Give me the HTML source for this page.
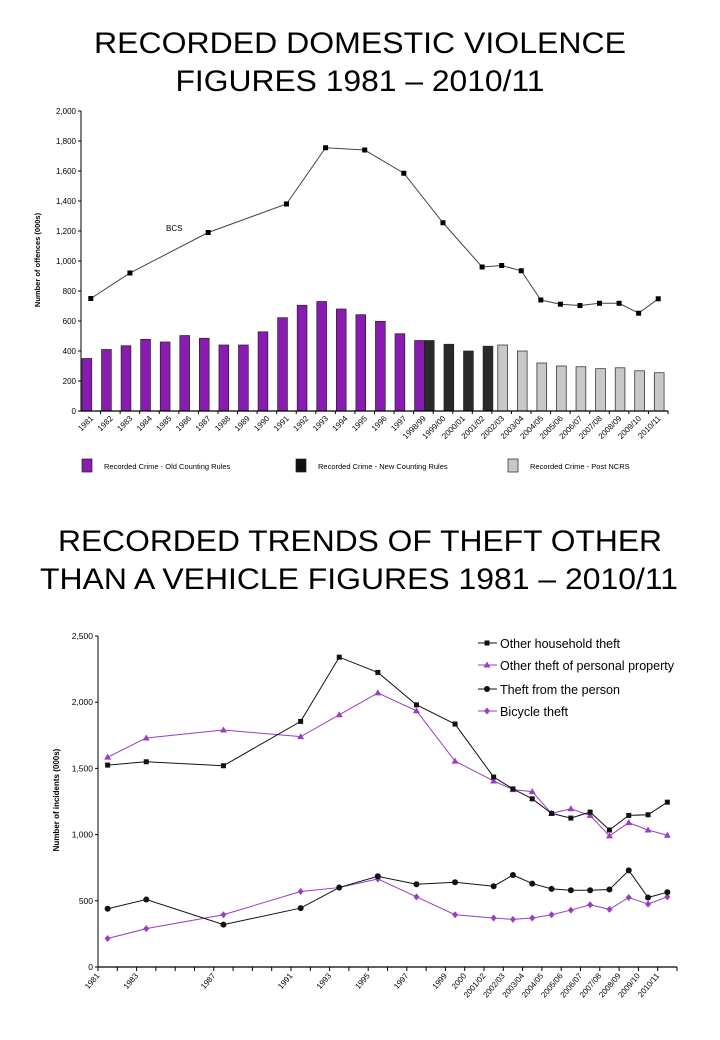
<!DOCTYPE html>
<html><head><meta charset="utf-8">
<style>
html,body{margin:0;padding:0;background:#fff;}
svg{display:block;font-family:"Liberation Sans",Arial,sans-serif;}
</style></head>
<body>
<svg id="root" width="720" height="1040" viewBox="0 0 720 1040" xmlns="http://www.w3.org/2000/svg">
<text x="360" y="53" font-size="30" text-anchor="middle" textLength="532" lengthAdjust="spacingAndGlyphs">RECORDED DOMESTIC VIOLENCE</text>
<text x="360" y="91" font-size="30" text-anchor="middle" textLength="369" lengthAdjust="spacingAndGlyphs">FIGURES 1981 – 2010/11</text>
<text x="360" y="551" font-size="30" text-anchor="middle" textLength="604" lengthAdjust="spacingAndGlyphs">RECORDED TRENDS OF THEFT OTHER</text>
<text x="359" y="589" font-size="30" text-anchor="middle" textLength="638" lengthAdjust="spacingAndGlyphs">THAN A VEHICLE FIGURES 1981 – 2010/11</text>
<g id="c1"></g>
<g id="c2"></g>
</svg>
<script>
// ---- Chart 1 data ----
const c1Categories = ["1981","1982","1983","1984","1985","1986","1987","1988","1989","1990","1991","1992","1993","1994","1995","1996","1997","1998/99","1999/00","2000/01","2001/02","2002/03","2003/04","2004/05","2005/06","2006/07","2007/08","2008/09","2009/10","2010/11"];
const c1OldCats = ["1981","1982","1983","1984","1985","1986","1987","1988","1989","1990","1991","1992","1993","1994","1995","1996","1997","1998/99"];
const c1OldValues = [350,410,435,478,460,503,485,440,440,528,622,705,730,680,642,598,515,470];
const c1NewCats = ["1998/99","1999/00","2000/01","2001/02"];
const c1NewValues = [470,445,400,432];
const c1NcrsCats = ["2002/03","2003/04","2004/05","2005/06","2006/07","2007/08","2008/09","2009/10","2010/11"];
const c1NcrsValues = [440,400,320,300,295,282,288,268,255];
const c1BcsCats = ["1981","1983","1987","1991","1993","1995","1997","1999/00","2001/02","2002/03","2003/04","2004/05","2005/06","2006/07","2007/08","2008/09","2009/10","2010/11"];
const c1BcsValues = [750,920,1190,1380,1755,1740,1585,1255,960,970,935,740,712,703,718,718,652,748];
const c1Ticks = [0,200,400,600,800,1000,1200,1400,1600,1800,2000];
const c1TickLabels = ["0","200","400","600","800","1,000","1,200","1,400","1,600","1,800","2,000"];

// ---- Chart 2 data ----
const c2Slots = ["1981","","1983","","","","1987","","","","1991","","1993","","1995","","1997","","1999","2000","2001/02","2002/03","2003/04","2004/05","2005/06","2006/07","2007/08","2008/09","2009/10","2010/11"];
const c2PointCats = ["1981","1983","1987","1991","1993","1995","1997","1999","2001/02","2002/03","2003/04","2004/05","2005/06","2006/07","2007/08","2008/09","2009/10","2010/11"];
const c2Household = [1525,1550,1520,1855,2340,2225,1980,1835,1435,1345,1270,1160,1125,1170,1035,1145,1150,1245];
const c2Personal = [1585,1730,1790,1740,1905,2070,1935,1555,1405,1340,1325,1160,1195,1145,990,1090,1035,995];
const c2Person = [440,510,320,445,600,685,625,640,610,695,630,590,580,580,585,730,525,565];
const c2Bicycle = [215,290,395,570,600,665,530,395,370,360,370,395,430,470,435,525,475,530];
const c2Ticks = [0,500,1000,1500,2000,2500];
const c2TickLabels = ["0","500","1,000","1,500","2,000","2,500"];

const NS = "http://www.w3.org/2000/svg";
function mk(parent, tag, attrs, text){
  const e = document.createElementNS(NS, tag);
  for (const k in attrs) e.setAttribute(k, attrs[k]);
  if (text !== undefined) e.textContent = text;
  parent.appendChild(e);
  return e;
}
const PURPLE_BAR = "#8a1bb0", PURPLE = "#9a3cc4";

// ===== Chart 1 =====
(function(){
  const g = document.getElementById('c1');
  const X0 = 81, X1 = 668, Y0 = 411, Y1 = 111;
  const slot = (X1 - X0) / c1Categories.length;
  const xs = i => X0 + i * slot;
  const ys = v => Y0 - (v / 2000) * (Y0 - Y1);
  const idx = c => c1Categories.indexOf(c);
  let e = mk(g,'line',{x1:X0,y1:Y1,x2:X0,y2:Y0,stroke:'#000','stroke-width':1});
  
  
  c1Ticks.forEach((t,i)=>{
    let tk = mk(g,'line',{x1:X0-3,y1:ys(t),x2:X0,y2:ys(t),stroke:'#000'});
    
    
    let tl = mk(g,'text',{x:X0-5,y:ys(t)+3,'font-size':8,'text-anchor':'end'},c1TickLabels[i]);
    
    
  });
  let yt = mk(g,'text',{x:0,y:0,'font-size':7.5,'font-weight':'bold','text-anchor':'middle',transform:'translate(40,260) rotate(-90)'},'Number of offences (000s)');
  
  
  function bars(cats, vals, off, fill, name){
    cats.forEach((c,i)=>{
      const x = xs(idx(c) + off);
      const r = mk(g,'rect',{x:x,y:ys(vals[i]),width:slot*0.5,height:Y0-ys(vals[i]),fill:fill,stroke:'#222','stroke-width':0.7});
      
      
    });
  }
  bars(c1OldCats, c1OldValues, 0.05, PURPLE_BAR, 'bar-old-counting-rules');
  bars(c1NewCats, c1NewValues, 0.55, '#2a2a2a', 'bar-new-counting-rules');
  bars(c1NcrsCats, c1NcrsValues, 0.3, '#c8c8c8', 'bar-post-ncrs');
  e = mk(g,'line',{x1:X0,y1:Y0,x2:X1,y2:Y0,stroke:'#000','stroke-width':1.2});
  
  
  c1Categories.forEach((c,i)=>{
    let tk = mk(g,'line',{x1:xs(i+1),y1:Y0,x2:xs(i+1),y2:Y0+3,stroke:'#000'});
    
    
    const lx = xs(i+0.5)+3, ly = Y0+8;
    let tl = mk(g,'text',{x:lx,y:ly,'font-size':8,'text-anchor':'end',transform:`rotate(-45 ${lx} ${ly})`},c);
    
    
  });
  const pts = c1BcsCats.map((c,i)=>[xs(idx(c)+0.5), ys(c1BcsValues[i])]);
  let pl = mk(g,'polyline',{points:pts.map(p=>p.join(',')).join(' '),fill:'none',stroke:'#444','stroke-width':1});
  
  
  pts.forEach(p=>{
    let m = mk(g,'rect',{x:p[0]-2.5,y:p[1]-2.5,width:5,height:5,fill:'#000'});
    
    
  });
  let bl = mk(g,'text',{x:166,y:231,'font-size':8},'BCS');
  
  
  const leg = [[82,PURPLE_BAR,'Recorded Crime - Old Counting Rules','legend-old-counting-rules'],[296,'#111','Recorded Crime - New Counting Rules','legend-new-counting-rules'],[508,'#c8c8c8','Recorded Crime - Post NCRS','legend-post-ncrs']];
  leg.forEach(l=>{
    const lg = mk(g,'g',{});
    
    
    mk(lg,'rect',{x:l[0],y:459,width:10,height:13,fill:l[1],stroke:'#222','stroke-width':0.7});
    mk(lg,'text',{x:l[0]+22,y:469,'font-size':7.5},l[2]);
  });
})();

// ===== Chart 2 =====
(function(){
  const g = document.getElementById('c2');
  const X0 = 98, X1 = 677, Y0 = 967, Y1 = 636;
  const slot = (X1 - X0) / c2Slots.length;
  const xs = i => X0 + i * slot;
  const ys = v => Y0 - (v / 2500) * (Y0 - Y1);
  const idx = c => c2Slots.indexOf(c);
  let e = mk(g,'line',{x1:X0,y1:Y1,x2:X0,y2:Y0,stroke:'#000','stroke-width':1});
  
  
  c2Ticks.forEach((t,i)=>{
    let tk = mk(g,'line',{x1:X0-3,y1:ys(t),x2:X0,y2:ys(t),stroke:'#000'});
    
    
    let tl = mk(g,'text',{x:X0-5,y:ys(t)+3,'font-size':8.5,'text-anchor':'end'},c2TickLabels[i]);
    
    
  });
  let yt = mk(g,'text',{x:0,y:0,'font-size':8,'font-weight':'bold','text-anchor':'middle',transform:'translate(59,800) rotate(-90)'},'Number of incidents (000s)');
  
  
  e = mk(g,'line',{x1:X0,y1:Y0,x2:X1,y2:Y0,stroke:'#000','stroke-width':1.2});
  
  
  for (let i=0;i<=c2Slots.length;i++){
    let tk = mk(g,'line',{x1:xs(i),y1:Y0,x2:xs(i),y2:Y0+4,stroke:'#000'});
    
    
  }
  c2Slots.forEach((c,i)=>{
    if(!c) return;
    const lx = xs(i)+2, ly = Y0+9;
    let tl = mk(g,'text',{x:lx,y:ly,'font-size':8,'text-anchor':'end',transform:`rotate(-50 ${lx} ${ly})`},c);
    
    
  });
  function marker(parent, type, x, y, color){
    if(type==='square') return mk(parent,'rect',{x:x-2.5,y:y-2.5,width:5,height:5,fill:color});
    if(type==='tri') return mk(parent,'polygon',{points:`${x},${y-3.5} ${x+3.5},${y+2.5} ${x-3.5},${y+2.5}`,fill:color});
    if(type==='circle') return mk(parent,'circle',{cx:x,cy:y,r:3,fill:color});
    return mk(parent,'polygon',{points:`${x},${y-3.5} ${x+3},${y} ${x},${y+3.5} ${x-3},${y}`,fill:color});
  }
  function series(vals, color, type, name){
    const sg = mk(g,'g',{});
    
    
    const pts = c2PointCats.map((c,i)=>[xs(idx(c)+0.5), ys(vals[i])]);
    mk(sg,'polyline',{points:pts.map(p=>p.join(',')).join(' '),fill:'none',stroke:color,'stroke-width':1});
    pts.forEach(p=>{
      const m = marker(sg,type,p[0],p[1],color);
      
      
    });
  }
  series(c2Bicycle, PURPLE, 'diamond', 'bicycle-theft-series');
  series(c2Person, '#111', 'circle', 'theft-from-person-series');
  series(c2Personal, PURPLE, 'tri', 'personal-property-series');
  series(c2Household, '#111', 'square', 'household-theft-series');
  const leg = [[643,'#111','square','Other household theft','legend-household',120],[665,PURPLE,'tri','Other theft of personal property','legend-personal-property',174],[689,'#111','circle','Theft from the person','legend-theft-from-person',120],[711,PURPLE,'diamond','Bicycle theft','legend-bicycle',68]];
  leg.forEach(l=>{
    const lg = mk(g,'g',{});
    
    
    mk(lg,'line',{x1:478,y1:l[0],x2:497,y2:l[0],stroke:l[1],'stroke-width':1});
    marker(lg,l[2],487,l[0],l[1]);
    mk(lg,'text',{x:500,y:l[0]+5,'font-size':13,textLength:l[5],lengthAdjust:'spacingAndGlyphs'},l[3]);
  });
})();
</script>
</body></html>
